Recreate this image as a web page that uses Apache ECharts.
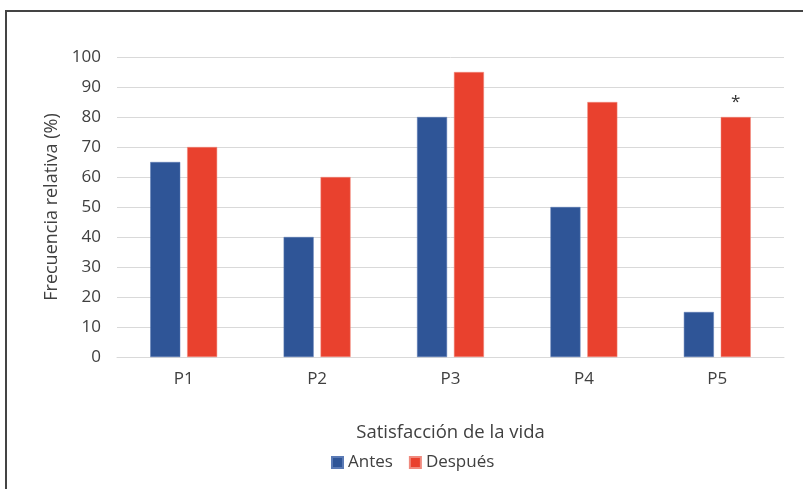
<!DOCTYPE html>
<html><head><meta charset="utf-8">
<script src="https://cdn.jsdelivr.net/npm/echarts@6/dist/echarts.min.js"></script>
<style>
html,body{margin:0;padding:0;background:#fff;}
#frame{position:absolute;left:5px;top:10px;width:820px;height:500px;border:2px solid #444;box-sizing:border-box;}
#c{position:absolute;left:0;top:0;width:803px;height:489px;}
</style></head>
<body>
<div id="frame"></div>
<div id="c"></div>
<script>
var categories = ['P1','P2','P3','P4','P5'];
var antes = [65, 40, 80, 50, 15];
var despues = [70, 60, 95, 85, 80];
var yTicks = [0,10,20,30,40,50,60,70,80,90,100];
var markText = ['', '', '', '', '*'];

var font = 'Open Sans';
var chart = echarts.init(document.getElementById('c'));
chart.setOption({
  animation:false,
  textStyle:{fontFamily:font},
  grid:{left:117,right:19,top:57,bottom:132},
  legend:{
    top:449, left:326, itemWidth:11, itemHeight:11, itemGap:16, icon:'rect',
    textStyle:{fontSize:17,color:'#404040',fontFamily:font},
    data:['Antes','Después']
  },
  xAxis:{
    type:'category', data:categories,
    name:'Satisfacción de la vida', nameLocation:'middle', nameGap:66,
    nameTextStyle:{fontSize:18.5,color:'#404040',fontFamily:font},
    axisLine:{lineStyle:{color:'#d9d9d9',width:1}},
    axisTick:{show:false},
    axisLabel:{fontSize:17,color:'#404040',margin:14,fontFamily:font}
  },
  yAxis:{
    type:'value', min:0, max:100, interval:10,
    name:'Frecuencia relativa (%)', nameLocation:'middle', nameGap:56, nameRotate:90,
    nameTextStyle:{fontSize:18,color:'#404040',fontFamily:font},
    axisLine:{show:false}, axisTick:{show:false},
    axisLabel:{fontSize:17,color:'#404040',margin:16,fontFamily:font,
      formatter:function(v){return yTicks.indexOf(v)>=0?String(v):'';}},
    splitLine:{lineStyle:{color:'#d9d9d9',width:1}}
  },
  series:[
    {name:'Antes',type:'bar',data:antes,barWidth:30,barGap:'23%',
     itemStyle:{color:'#2F5597',borderColor:'#5a7ab5',borderWidth:0.5}},
    {name:'Después',type:'bar',data:despues.map(function(v,i){
        return {value:v,label:{show:markText[i]!=='',formatter:markText[i]}};
      }),barWidth:30,
     label:{position:'top',distance:6,fontSize:17,color:'#333',fontFamily:font},
     itemStyle:{color:'#E9412E',borderColor:'#f08a7e',borderWidth:0.5}}
  ]
});
</script>
</body></html>
